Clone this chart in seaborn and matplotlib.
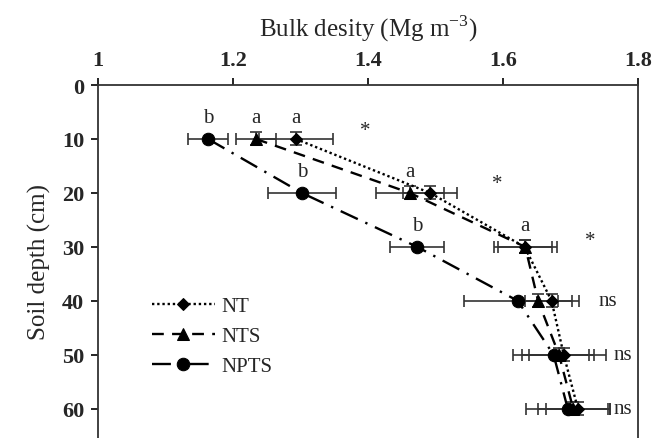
import numpy as np
import pandas as pd
import matplotlib
matplotlib.use("Agg")
import matplotlib.pyplot as plt
import seaborn as sns

depth = [10, 20, 30, 40, 50, 60]
treatments = ["NT", "NTS", "NPTS"]
nt = [1.293, 1.492, 1.632, 1.672, 1.690, 1.711]
nt_err = [0.055, 0.04, 0.04, 0.04, 0.062, 0.047]
nts = [1.234, 1.462, 1.633, 1.652, 1.683, 1.704]
nts_err = [0.03, 0.05, 0.047, 0.03, 0.045, 0.052]
npts = [1.163, 1.302, 1.473, 1.622, 1.675, 1.696]
npts_err = [0.03, 0.05, 0.04, 0.08, 0.06, 0.062]
yerr_small = [1.2, 1.2, 1.2, 1.2, 1.2, 1.2]

# letters: (x, depth, text)
letters_x = [1.163, 1.234, 1.293, 1.302, 1.462, 1.473, 1.633]
letters_d = [10, 10, 10, 20, 20, 30, 30]
letters_t = ["b", "a", "a", "b", "a", "b", "a"]
sig_x = [1.396, 1.591, 1.729, 1.755, 1.778, 1.778]
sig_d = [8.5, 18.3, 28.9, 40, 50, 60]
sig_t = ["*", "*", "*", "ns", "ns", "ns"]

sns.set_style("white")
plt.rcParams["font.family"] = ["Liberation Serif", "DejaVu Serif"]
plt.rcParams["mathtext.fontset"] = "custom"
plt.rcParams["mathtext.rm"] = "Liberation Serif"

df = pd.DataFrame({
    "depth": depth * 3,
    "bd": nt + nts + npts,
    "err": nt_err + nts_err + npts_err,
    "trt": [t for t in treatments for _ in depth],
})

fig = plt.figure(figsize=(6.54, 4.39), dpi=100)
ax = fig.add_axes([98 / 654, 0.0, (638 - 98) / 654, 1 - 86 / 439])

styles = {
    "NT": dict(marker="D", ms=6, dashes=(1, 1.2)),
    "NTS": dict(marker="^", ms=8, dashes=(5, 3.5)),
    "NPTS": dict(marker="o", ms=9, dashes=(8, 3.5, 1, 3.5)),
}
for t in treatments:
    sub = df[df.trt == t]
    st = styles[t]
    ax.errorbar(sub.bd, sub.depth, xerr=sub.err,
                yerr=(yerr_small if t != "NPTS" else None),
                fmt="none", ecolor="#333333", elinewidth=1.2, capsize=4,
                capthick=1.2, zorder=2)
    sns.lineplot(data=sub, x="bd", y="depth", sort=False, ax=ax, color="black",
                 lw=1.7, marker=st["marker"], markersize=st["ms"],
                 markeredgecolor="black", dashes=False, zorder=3, label=t,
                 estimator=None)
    ax.lines[-1].set_dashes(st["dashes"])

for x, d, s in zip(letters_x, letters_d, letters_t):
    ax.text(x, d - 2.2, s, ha="center", va="bottom", fontsize=15)
for x, d, s in zip(sig_x, sig_d, sig_t):
    ax.text(x, d, s, ha="center", va="center", fontsize=15)

ax.set_xlim(1.0, 1.8)
ax.set_ylim(65.4, 0)
ax.xaxis.tick_top()
ax.xaxis.set_label_position("top")
ax.set_xticks([1.0, 1.2, 1.4, 1.6, 1.8])
ax.set_xticklabels(["1", "1.2", "1.4", "1.6", "1.8"])
ax.set_yticks([0] + depth)
ax.tick_params(axis="x", direction="out", length=5, width=1.2, pad=6,
               labelsize=16, top=True, bottom=False, color="black")
ax.tick_params(axis="y", direction="out", length=5, width=1.2, pad=5,
               labelsize=16, left=True, color="black")
for lab in ax.get_xticklabels() + ax.get_yticklabels():
    lab.set_fontweight("bold")
ax.spines["bottom"].set_visible(False)
for s in ["top", "left", "right"]:
    ax.spines[s].set_color("#333333")
    ax.spines[s].set_linewidth(1.3)
ax.set_xlabel("Bulk desity (Mg m$^{-3}$)", fontsize=18, labelpad=10)
ax.set_ylabel("Soil depth (cm)", fontsize=18, labelpad=8)

leg = ax.legend(loc="upper left", bbox_to_anchor=(0.085, 0.425), frameon=False,
                fontsize=15, handlelength=3.0, handletextpad=0.3,
                labelspacing=0.5, borderaxespad=0)

fig.savefig("out.png", dpi=100)
